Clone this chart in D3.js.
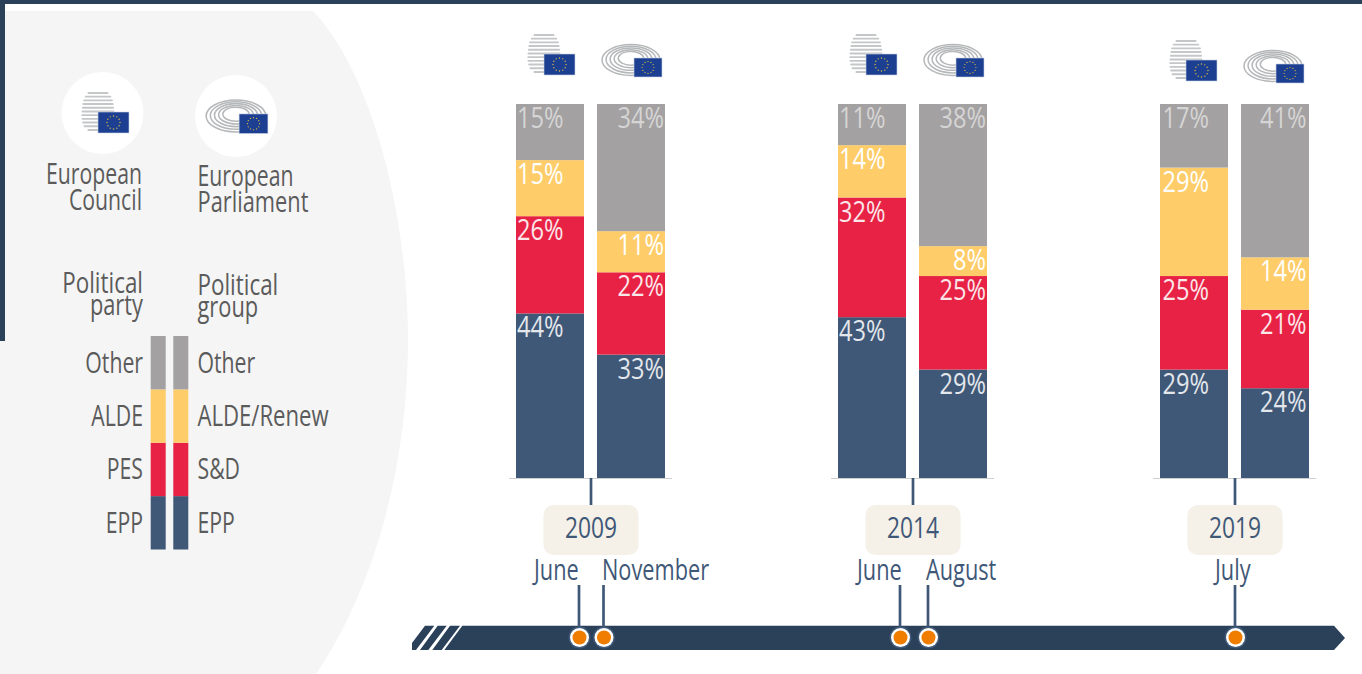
<!DOCTYPE html>
<html><head><meta charset="utf-8">
<script src="https://cdn.jsdelivr.net/npm/d3@7"></script>
<style>html,body{margin:0;padding:0;background:#fff;overflow:hidden}svg{display:block}text{font-family:"Open Sans",sans-serif}</style>
</head><body><svg id="c" width="1362" height="674"></svg>
<script>
// ---- data
const years = ["2009","2014","2019"];
const bodies = ["Council","Parliament"];
const seriesKeys = ["EPP","SD","ALDE","Other"];
const council2009 = [44,26,15,15];
const parliament2009 = [33,22,11,34];
const council2014 = [43,32,14,11];
const parliament2014 = [29,25,8,38];
const council2019 = [29,25,29,17];
const parliament2019 = [24,21,14,41];
const partyLabels = ["EPP","PES","ALDE","Other"];
const groupLabels = ["EPP","S&D","ALDE/Renew","Other"];
const months2009 = ["June","November"];
const months2014 = ["June","August"];
const months2019 = ["July"];

// ---- styles and layout
const colors = {EPP:"#3f5877",SD:"#e82244",ALDE:"#fecd6a",Other:"#a3a1a2"};
const labelColors = {EPP:"#e4e7ec",SD:"#fbe6ea",ALDE:"#fff",Other:"#d6d5d5"};
const navy="#2b4059", blue="#3f5877", gray="#5b5b5b";
const svg=d3.select("#c");
function txt(g,x,y,s,size,fill,anchor,sx){
  return g.append("text").attr("transform",`translate(${x},${y}) scale(${sx||0.74},1)`)
    .attr("text-anchor",anchor||"start").attr("font-size",size).attr("fill",fill).text(s);
}
// frame and panel
svg.append("path").attr("fill","#f5f5f5")
  .attr("d","M5,11 L313,11 C368,68 408,205 408,340 C408,470 372,592 316,674 L0,674 L0,341 L5,341Z");
svg.append("rect").attr("width",1362).attr("height",4).attr("fill",navy);
svg.append("rect").attr("width",5).attr("height",341).attr("fill",navy);

const y=d3.scaleLinear().domain([0,100]).range([478,104]);
const yearX=d3.scalePoint().domain(years).range([591,1235]);
const bodyX=d3.scaleBand().domain(bodies).range([-75,74]).paddingInner(13/81).paddingOuter(0);
const table={ "2009":[council2009,parliament2009], "2014":[council2014,parliament2014], "2019":[council2019,parliament2019] };
const stack=d3.stack().keys(d3.range(4)).value((d,k)=>d[k]);

function flag(g,x,yy,w,h){
  g.append("rect").attr("x",x).attr("y",yy).attr("width",w).attr("height",h).attr("fill","#1d3f92").attr("stroke","#c9d2e4").attr("stroke-width",.6);
  const r=h*0.31;
  d3.range(12).forEach(i=>{const a=i*Math.PI/6;
    g.append("circle").attr("cx",x+w/2+r*Math.cos(a)).attr("cy",yy+h/2+r*Math.sin(a)).attr("r",Math.max(.55,h*.032)).attr("fill","#e3c23a");});
}
function councilIcon(g,x,yy,s){
  const wob=[.62,.78,.88,.92,.95,.97,.98,.97,.93,.85,.62];
  wob.forEach((w,i)=>{
    const cx=x+17*s, ww=34*s*w;
    g.append("rect").attr("x",cx-ww/2).attr("y",yy+i*3.7*s).attr("width",ww).attr("height",1.9*s).attr("rx",1).attr("fill","#c4c6c8");
  });
  flag(g,x+17*s,yy+20*s,31*s,21*s);
}
function parlIcon(g,cx,cy,s){
  [1,.86,.72,.58,.44].forEach(k=>{
    g.append("ellipse").attr("cx",cx).attr("cy",cy-(1-k)*3*s).attr("rx",29*s*k).attr("ry",15.5*s*k)
     .attr("fill","none").attr("stroke","#b5b7b9").attr("stroke-width",1.5*s);
  });
  g.append("ellipse").attr("cx",cx-2*s).attr("cy",cy-3*s).attr("rx",9*s).attr("ry",4.5*s).attr("fill","#fff");
  flag(g,cx+3*s,cy-2*s,28*s,19*s);
}

// bars
const iconDrop={"2009":0,"2014":0,"2019":6};
const iconShift={"2009":0,"2014":0,"2019":-2};
const labelInset={"2009":1,"2014":1,"2019":2.5};
years.forEach(yr=>{
  const g=svg.append("g").attr("transform",`translate(${yearX(yr)},0)`);
  g.append("line").attr("x1",-82).attr("x2",81).attr("y1",478.5).attr("y2",478.5).attr("stroke","#cfcfcf").attr("stroke-width",1.2);
  bodies.forEach((b,bi)=>{
    const vals=table[yr][bi];
    const layers=stack([vals]);
    layers.forEach((l,k)=>{
      const d=l[0], key=seriesKeys[k];
      g.append("rect").attr("x",bodyX(b)).attr("width",bodyX.bandwidth())
        .attr("y",y(d[1])).attr("height",y(d[0])-y(d[1])).attr("fill",colors[key]);
      const lx=bi==0?bodyX(b)+labelInset[yr]:bodyX(b)+bodyX.bandwidth()-labelInset[yr];
      txt(g,lx,y(d[1])+24,vals[k]+"%",29.5,labelColors[key],bi==0?"start":"end",0.8);
    });
  });
  g.append("line").attr("x1",0).attr("x2",0).attr("y1",478).attr("y2",505).attr("stroke",blue).attr("stroke-width",2.7);
  g.append("rect").attr("x",-47.5).attr("y",505).attr("width",95).attr("height",50).attr("rx",10).attr("fill","#f5f0e8");
  txt(g,0,538,yr,30,blue,"middle",0.76);
  councilIcon(g,-64+iconShift[yr],34+iconDrop[yr],1);
  parlIcon(g,40+iconShift[yr],60+iconDrop[yr],1);
});

// timeline
svg.append("path").attr("fill",navy).attr("d","M462.3,625.7 L1334,625.7 L1345,638 L1334,650 L444.3,650 Z");
svg.append("path").attr("fill",navy).attr("d","M412,643 L425,625.7 L434.3,625.7 L416,650 L412,650Z M420,650 L437.7,625.7 L446.7,625.7 L428.3,650Z M432.3,650 L450,625.7 L460,625.7 L441.7,650Z");
const monthSets=[[years[0],months2009,[-12,12.5],[-57,11]],[years[1],months2014,[-13,15],[-56,13]],[years[2],months2019,[0],[-20]]];
monthSets.forEach(([yr,ms,offs,tOffs])=>{
  const cx=yearX(yr);
  ms.forEach((m,i)=>{
    const x=cx+offs[i];
    svg.append("line").attr("x1",x).attr("x2",x).attr("y1",585).attr("y2",628).attr("stroke",blue).attr("stroke-width",2.7);
    txt(svg,cx+tOffs[i],580,m,29,blue,"start",0.75);
    svg.append("circle").attr("cx",x+.5).attr("cy",637.5).attr("r",11).attr("fill",blue);
    svg.append("circle").attr("cx",x+.5).attr("cy",637.5).attr("r",9.5).attr("fill","#fff");
    svg.append("circle").attr("cx",x+.5).attr("cy",637.5).attr("r",7).attr("fill","#f07d00");
  });
});

// legend
const leg=svg.append("g");
leg.append("circle").attr("cx",102.5).attr("cy",113).attr("r",41).attr("fill","#fff");
leg.append("circle").attr("cx",236).attr("cy",116).attr("r",41).attr("fill","#fff");
councilIcon(leg,81,92,1);
parlIcon(leg,236,116,1.03);
const F=29.5;
txt(leg,142,184,"European",F,gray,"end",0.72);
txt(leg,142,210,"Council",F,gray,"end",0.72);
txt(leg,197.5,186,"European",F,gray,"start",0.72);
txt(leg,197.5,212,"Parliament",F,gray);
txt(leg,143,293,"Political",F,gray,"end",0.76);
txt(leg,143,315,"party",F,gray,"end");
txt(leg,197.5,295,"Political",F,gray,"start",0.76);
txt(leg,197.5,317,"group",F,gray);
const legY=d3.scaleBand().domain(seriesKeys).range([549.5,336]);
[150.7,173.3].forEach((x,bi)=>{
  seriesKeys.forEach((k,i)=>{
    leg.append("rect").attr("x",x).attr("y",legY(k)).attr("width",15).attr("height",legY.bandwidth()).attr("fill",colors[k]);
    const t=bi==0?partyLabels[i]:groupLabels[i];
    const yy=legY(k)+legY.bandwidth()/2+10;
    if(bi==0) txt(leg,143,yy,t,F,gray,"end",0.72); else txt(leg,197.5,yy,t,F,gray,"start",i==2?0.75:0.72);
  });
});
</script></body></html>
